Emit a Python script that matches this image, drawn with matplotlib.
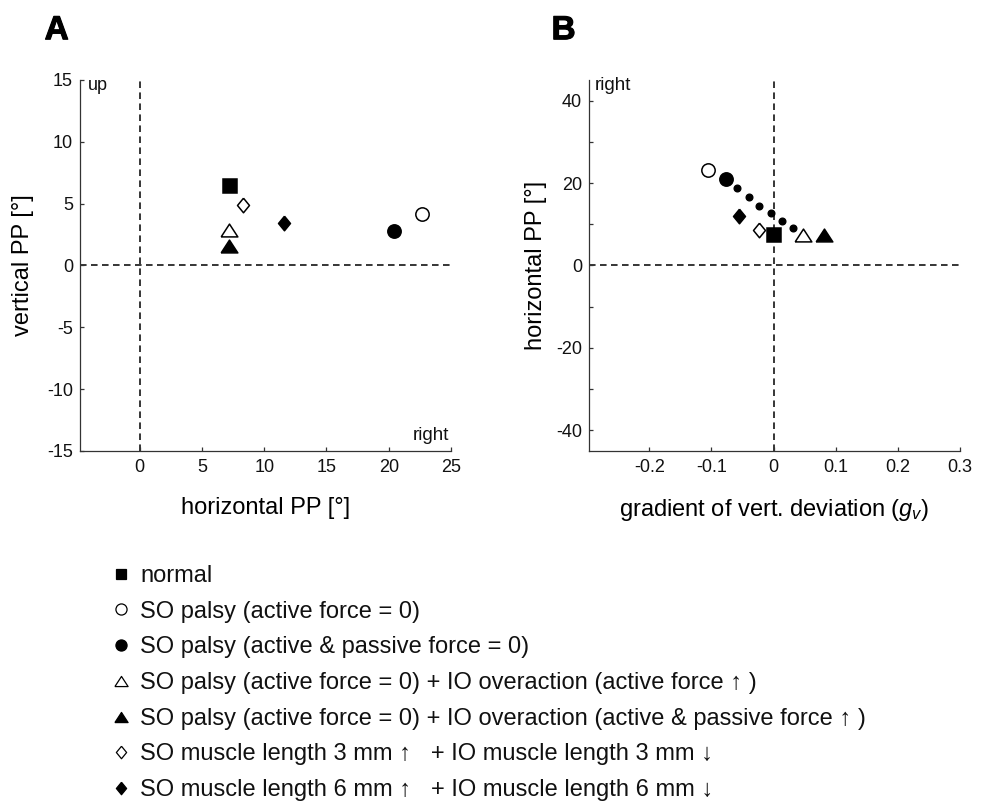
"""
Primary position (PP) of the listening plane for the simulated
superior oblique (SO) / inferior oblique (IO) conditions.

A: vertical vs. horizontal PP
B: horizontal PP vs. gradient of vertical deviation (g_v)
"""

import matplotlib
matplotlib.use('Agg')
import matplotlib.pyplot as plt
import matplotlib.patheffects as pe
from matplotlib.lines import Line2D


# ---------------------------------------------------------------------------
# Data
# ---------------------------------------------------------------------------
conditions = [
    'normal',
    'SO palsy (active force = 0)',
    'SO palsy (active & passive force = 0)',
    'SO palsy (active force = 0) + IO overaction (active force \u2191 )',
    'SO palsy (active force = 0) + IO overaction (active & passive force \u2191 )',
    'SO muscle length 3 mm \u2191   + IO muscle length 3 mm \u2193',
    'SO muscle length 6 mm \u2191   + IO muscle length 6 mm \u2193',
]

# panel A
horiz_pp_a = [7.25, 22.7, 20.4, 7.2, 7.2, 8.3, 11.6]
vert_pp_a = [6.45, 4.2, 2.75, 2.85, 1.55, 4.85, 3.4]

# panel B
gradient_b = [0.001, -0.105, -0.076, 0.048, 0.081, -0.024, -0.055]
horiz_pp_b = [7.5, 23.1, 20.9, 7.5, 7.5, 8.7, 12.0]

# intermediate steps between full palsy and normal (small dots in B)
gradient_steps = [-0.059, -0.040, -0.023, -0.004, 0.0135, 0.031]
horiz_pp_steps = [18.7, 16.6, 14.4, 12.8, 10.9, 9.0]

xticks_a = [0, 5, 10, 15, 20, 25]
yticks_a = [-15, -10, -5, 0, 5, 10, 15]
xticks_b = [-0.2, -0.1, 0, 0.1, 0.2, 0.3]
xlabels_b = ['-0.2', '-0.1', '0', '0.1', '0.2', '0.3']
yticks_b = [-40, -30, -20, -10, 0, 10, 20, 30, 40]
ylabels_b = ['-40', '', '-20', '', '0', '', '20', '', '40']


# ---------------------------------------------------------------------------
# Style
# ---------------------------------------------------------------------------
plt.rcParams.update({
    'font.family': ['Liberation Sans', 'DejaVu Sans'],
    'mathtext.fontset': 'custom',
    'mathtext.rm': 'Liberation Sans',
    'mathtext.it': 'Liberation Sans:italic',
    'axes.unicode_minus': False,
    'text.color': '#111111',
    'axes.edgecolor': '#333333',
    'axes.linewidth': 0.9,
    'xtick.direction': 'in',
    'ytick.direction': 'in',
    'xtick.major.size': 3,
    'ytick.major.size': 3,
    'xtick.major.width': 0.9,
    'ytick.major.width': 0.9,
    'xtick.color': '#333333',
    'ytick.color': '#333333',
    'xtick.labelcolor': '#111111',
    'ytick.labelcolor': '#111111',
    'xtick.labelsize': 13,
    'ytick.labelsize': 13,
    'xtick.major.pad': 6,
    'ytick.major.pad': 5,
})

# marker shapes: slightly flattened triangle, slightly narrow diamond
tri = [(-0.65, -0.5), (0.65, -0.5), (0.0, 0.5), (-0.65, -0.5)]
dia = [(0.0, 1.0), (0.82, 0.0), (0.0, -1.0), (-0.82, 0.0), (0.0, 1.0)]

# (marker, facecolor, size in plots, size in legend)
styles = [
    ('s', 'black', 10, 6.8),
    ('o', 'white', 9.6, 8),
    ('o', 'black', 9.6, 8),
    (tri, 'white', 12, 9.5),
    (tri, 'black', 12, 9.5),
    (dia, 'white', 10.5, 9),
    (dia, 'black', 10.5, 9),
]

dash = (0, (4.3, 2.9))


def style_axes(ax):
    for side in ('top', 'right'):
        ax.spines[side].set_visible(False)
    ax.axhline(0, color='black', lw=1.1, linestyle=dash, zorder=1)
    ax.axvline(0, color='black', lw=1.1, linestyle=dash, zorder=1)


fig = plt.figure(figsize=(9.92, 8.02), dpi=100)
ax_a = fig.add_axes([0.0806, 0.4377, 0.374, 0.4626])
ax_b = fig.add_axes([0.5938, 0.4377, 0.374, 0.4626])

# ---------------------------------------------------------------------------
# Panel A
# ---------------------------------------------------------------------------
style_axes(ax_a)
for (m, fc, ms, _), x, y in zip(styles, horiz_pp_a, vert_pp_a):
    ax_a.plot(x, y, linestyle='none', marker=m, ms=ms, mfc=fc,
              mec='black', mew=1.1, zorder=3)
ax_a.set_xlim(-4.8, 25)
ax_a.set_ylim(-15, 15)
ax_a.set_xticks(xticks_a)
ax_a.set_yticks(yticks_a)
ax_a.set_xlabel('horizontal PP [°]', fontsize=17)
ax_a.set_ylabel('vertical PP [°]', fontsize=17)
ax_a.xaxis.set_label_coords(0.5, -0.125)
ax_a.yaxis.set_label_coords(-0.125, 0.5)
ax_a.text(0.022, 1.008, 'up', transform=ax_a.transAxes, fontsize=13,
          ha='left', va='top')
ax_a.text(0.995, 0.018, 'right', transform=ax_a.transAxes, fontsize=13.5,
          ha='right', va='bottom')

# ---------------------------------------------------------------------------
# Panel B
# ---------------------------------------------------------------------------
style_axes(ax_b)
ax_b.plot(gradient_steps, horiz_pp_steps, linestyle='none', marker='o',
          ms=4.8, mfc='black', mec='black', zorder=3)
for (m, fc, ms, _), x, y in zip(styles, gradient_b, horiz_pp_b):
    ax_b.plot(x, y, linestyle='none', marker=m, ms=ms, mfc=fc,
              mec='black', mew=1.1, zorder=4)
ax_b.set_xlim(-0.297, 0.3)
ax_b.set_ylim(-45, 45)
ax_b.set_xticks(xticks_b)
ax_b.set_xticklabels(xlabels_b)
ax_b.set_yticks(yticks_b)
ax_b.set_yticklabels(ylabels_b)
ax_b.set_xlabel('gradient of vert. deviation ($g_v$)', fontsize=17)
ax_b.set_ylabel('horizontal PP [°]', fontsize=17)
ax_b.xaxis.set_label_coords(0.5, -0.125)
ax_b.yaxis.set_label_coords(-0.113, 0.5)
ax_b.text(0.016, 1.008, 'right', transform=ax_b.transAxes, fontsize=13.5,
          ha='left', va='top')

# panel letters, drawn a touch heavier than plain bold
heavy = [pe.withStroke(linewidth=0.8, foreground='black')]
fig.text(0.045, 0.981, 'A', fontsize=24, fontweight='bold', va='top',
         color='black', path_effects=heavy)
fig.text(0.556, 0.981, 'B', fontsize=24, fontweight='bold', va='top',
         color='black', path_effects=heavy)

# ---------------------------------------------------------------------------
# Legend below both panels
# ---------------------------------------------------------------------------
handles = [
    Line2D([], [], linestyle='none', marker=m, ms=lms, mfc=fc,
           mec='black', mew=0.9)
    for m, fc, _, lms in styles
]
fig.legend(handles, conditions, loc='upper left',
           bbox_to_anchor=(0.115, 0.2955), frameon=False, fontsize=17,
           handlelength=0.6, handletextpad=0.5, labelspacing=0.58,
           borderpad=0, borderaxespad=0)

fig.savefig('out.png', dpi=100)
